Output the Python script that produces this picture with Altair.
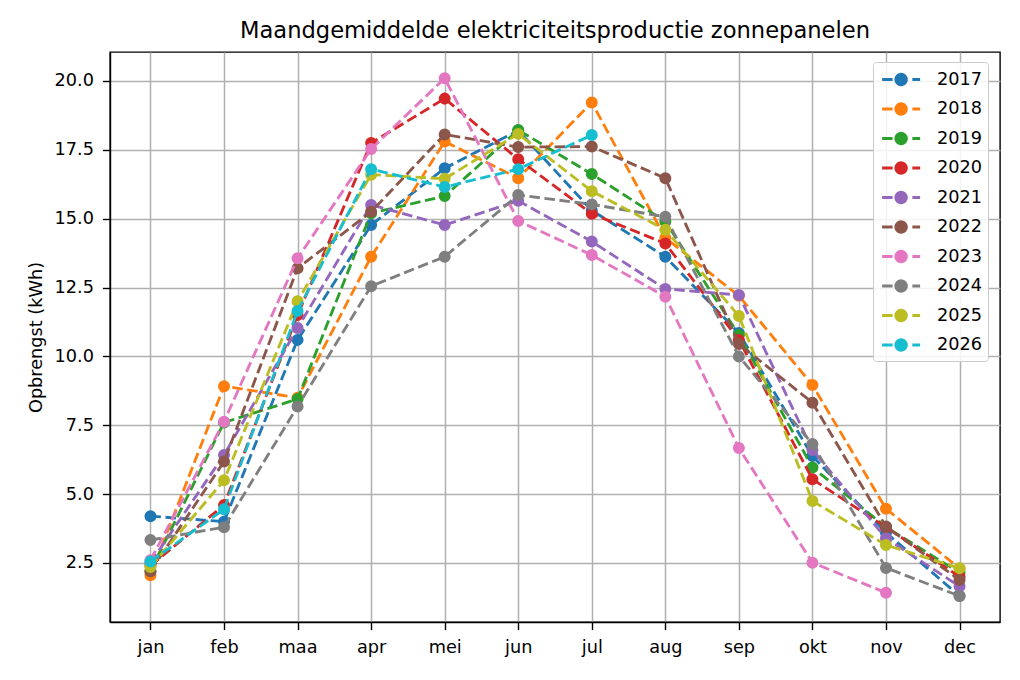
import altair as alt
import pandas as pd

months = ["jan", "feb", "maa", "apr", "mei", "jun", "jul", "aug", "sep", "okt", "nov", "dec"]
years = ["2017", "2018", "2019", "2020", "2021", "2022", "2023", "2024", "2025", "2026"]
colors = ["#1f77b4", "#ff7f0e", "#2ca02c", "#d62728", "#9467bd",
          "#8c564b", "#e377c2", "#7f7f7f", "#bcbd22", "#17becf"]

y2017 = [4.20, 4.00, 10.60, 14.77, 16.83, 18.20, 15.30, 13.62, 10.85, 6.38, 3.60, 1.30]
y2018 = [2.05, 8.92, 8.50, 13.62, 17.80, 16.47, 19.22, 14.30, 12.20, 8.96, 4.47, 2.30]
y2019 = [2.20, 7.60, 8.45, 15.20, 15.82, 18.22, 16.62, 14.90, 10.78, 5.97, 3.80, 2.15]
y2020 = [2.40, 4.60, 11.50, 17.75, 19.36, 17.16, 15.18, 14.10, 10.60, 5.54, 3.80, 2.00]
y2021 = [2.50, 6.42, 11.03, 15.50, 14.77, 15.65, 14.17, 12.45, 12.23, 6.60, 3.40, 1.65]
y2022 = [2.20, 6.18, 13.20, 15.25, 18.06, 17.60, 17.62, 16.47, 10.45, 8.32, 3.82, 1.88]
y2023 = [2.60, 7.63, 13.56, 17.53, 20.10, 14.92, 13.68, 12.17, 6.67, 2.51, 1.42]
y2024 = [3.33, 3.80, 8.18, 12.55, 13.62, 15.86, 15.52, 15.07, 10.00, 6.82, 2.32, 1.30]
y2025 = [2.35, 5.50, 12.00, 16.60, 16.45, 18.08, 16.00, 14.60, 11.47, 4.75, 3.15, 2.31]
y2026 = [2.55, 4.45, 11.65, 16.80, 16.15, 16.80, 18.04]

series = {"2017": y2017, "2018": y2018, "2019": y2019, "2020": y2020, "2021": y2021,
          "2022": y2022, "2023": y2023, "2024": y2024, "2025": y2025, "2026": y2026}

yticks = [2.5, 5.0, 7.5, 10.0, 12.5, 15.0, 17.5, 20.0]

FONT = "DejaVu Sans"
FS = 17.7

legend_path = ("M-0.945,0L0.01,0M0.43,0L1.385,0M1.805,0L2.51,0"
               "M0.30,0A0.48,0.48,0,1,1,1.26,0A0.48,0.48,0,1,1,0.30,0Z")

legend = alt.Legend(
    title=None, orient="none", legendX=763, legendY=10,
    padding=5, symbolOffset=2,
    fillColor="rgba(255,255,255,0.85)", strokeColor="#cccccc",
    cornerRadius=3, symbolType=legend_path, symbolSize=484,
    symbolStrokeWidth=2.8, symbolDash=[1, 0], symbolOpacity=1,
    labelOffset=32, rowPadding=5.5,
    labelFontSize=FS, labelFont=FONT, labelColor="black",
)

color_scale = alt.Scale(domain=years, range=colors)
x_enc = alt.X("maand:O", sort=months,
              scale=alt.Scale(type="point", padding=0.55),
              axis=alt.Axis(title=None, labelAngle=0, grid=True))
y_enc = alt.Y("opbrengst:Q",
              scale=alt.Scale(domain=[0.356, 21.053], nice=False, zero=False),
              axis=alt.Axis(values=yticks, format=".1f", title="Opbrengst (kWh)", grid=True))

layers = []
for yr in years:
    vals = series[yr]
    df = pd.DataFrame({"maand": months[:len(vals)], "opbrengst": vals, "jaar": yr})
    stroke_enc = alt.Stroke("jaar:N", scale=color_scale, legend=legend)
    fill_enc = alt.Fill("jaar:N", scale=color_scale, legend=legend)
    line = alt.Chart(df).mark_line(strokeDash=[10.5, 4.6], strokeWidth=2.85).encode(
        x=x_enc, y=y_enc, stroke=stroke_enc)
    pts = alt.Chart(df).mark_point(filled=True, size=102, strokeWidth=1.9, opacity=1).encode(
        x=x_enc, y=y_enc, stroke=stroke_enc, fill=fill_enc)
    layers += [line, pts]

chart = alt.layer(*layers).properties(
    width=890, height=570,
    background="white",
    autosize=alt.AutoSizeParams(type="none"),
    padding={"left": 102, "top": 44, "right": 12, "bottom": 50},
    title=alt.Title("Maandgemiddelde elektriciteitsproductie zonnepanelen",
                    font=FONT, fontSize=22.6, fontWeight="normal", color="black",
                    offset=9),
).configure_view(
    stroke="black", strokeWidth=1.4
).configure_axis(
    labelFont=FONT, labelFontSize=FS, labelColor="black",
    titleFont=FONT, titleFontSize=FS, titleColor="black", titleFontWeight="normal",
    gridColor="#b0b0b0", gridWidth=1.5, gridOpacity=1,
    domainColor="black", domainWidth=1.4,
    tickColor="black", tickWidth=1.4, tickSize=7.6, labelPadding=9,
    titlePadding=9,
)

chart.save("out.html", embed_options={"renderer": "svg", "actions": False})
